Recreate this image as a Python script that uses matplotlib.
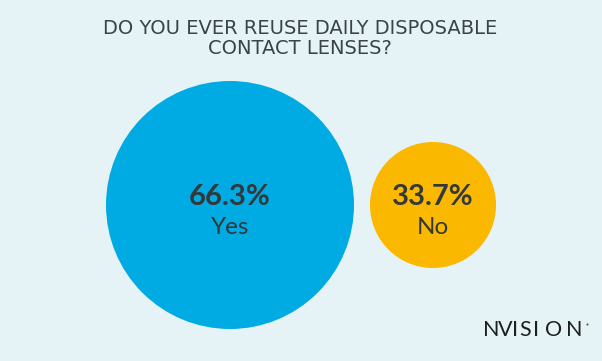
import matplotlib.pyplot as plt
from matplotlib.patches import Circle

# data
labels = ['Yes', 'No']
values = [66.3, 33.7]
colors = ['#00aae2', '#fbb800']

title_lines = ['DO YOU EVER REUSE DAILY DISPOSABLE', 'CONTACT LENSES?']
logo = 'NVISION'

# layout (pixel space of the 602x361 picture)
centers = [(230, 205), (433, 205)]
px_per_pct = 124 / 66.3   # radius grows with the value
title_y = [28, 48.5]
logo_x = [491, 505, 515, 525, 536.5, 553.5, 574]

bg = '#e5f3f6'
txt = '#33393b'

fig = plt.figure(figsize=(6.02, 3.61), dpi=100)
fig.set_facecolor(bg)
ax = fig.add_axes([0, 0, 1, 1])
ax.set_facecolor(bg)
ax.set_xlim(0, 602)
ax.set_ylim(361, 0)
ax.set_aspect('equal')
ax.axis('off')

for (cx, cy), lab, val, col in zip(centers, labels, values, colors):
    ax.add_patch(Circle((cx, cy), val * px_per_pct, color=col, lw=0))
    ax.text(cx, cy - 8, f'{val}%', ha='center', va='center', fontsize=21,
            fontweight='bold', color=txt, family='Lato')
    ax.text(cx, cy + 22, lab, ha='center', va='center', fontsize=17.5,
            color=txt, family='Lato')

for line, y in zip(title_lines, title_y):
    ax.text(300, y, line, ha='center', va='center', fontsize=14,
            color='#3a4347', family='DejaVu Sans')

# logo, letters spread out
for ch, x in zip(logo, logo_x):
    ax.text(x, 330, ch, ha='center', va='center', fontsize=15.5,
            color='#1e1e1e', family='Lato')
ax.plot(587, 324, marker='o', ms=1.5, color='#555555', mew=0)

fig.savefig('out.png', dpi=100, facecolor=bg)
